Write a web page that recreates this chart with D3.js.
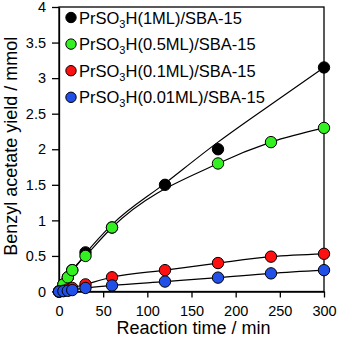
<!DOCTYPE html>
<html lang="en">
<head>
<meta charset="utf-8">
<title>Benzyl acetate yield</title>
<script src="https://cdn.jsdelivr.net/npm/d3@7"></script>
<style>
    body { margin: 0; background: #fff; }
    text { font-family: "Liberation Sans", Arial, sans-serif; fill: #000; }
    .axis path, .axis line { stroke: #000; stroke-width: 1.3; }
    .axis text { font-size: 14.5px; }
    .fit { fill: none; stroke: #000; stroke-width: 1.2; }
    .dot { stroke: #000; stroke-width: 1; }
</style>
</head>
<body>
<div id="chart"></div>
<script>
    // series
    const names = ["1ML", "0.5ML", "0.1ML", "0.01ML"];
    const colors = ["#000000", "#33f020", "#ff1010", "#2050e8"];

    const t1 = [0, 5, 10, 15, 30, 60, 120, 180, 300];
    const y1 = [0, 0.1, 0.2, 0.3, 0.55, 0.9, 1.5, 2.0, 3.15];
    // black fit line (drawn as a smooth curve in the original)
    const fitT1 = [0, 30, 60, 120, 180, 240, 300];
    const fitY1 = [0, 0.53, 0.94, 1.52, 2.1, 2.63, 3.15];

    const t2 = [0, 5, 10, 15, 30, 60, 180, 240, 300];
    const y2 = [0, 0.1, 0.2, 0.3, 0.5, 0.9, 1.8, 2.1, 2.3];

    const t3 = [0, 5, 10, 15, 30, 60, 120, 180, 240, 300];
    const y3 = [0, 0.01, 0.03, 0.05, 0.1, 0.2, 0.3, 0.4, 0.49, 0.53];

    const t4 = [0, 5, 10, 15, 30, 60, 120, 180, 240, 300];
    const y4 = [0, 0.005, 0.01, 0.02, 0.05, 0.085, 0.14, 0.195, 0.255, 0.3];

    const xTicks = [0, 50, 100, 150, 200, 250, 300];
    const yTicks = [0, 0.5, 1, 1.5, 2, 2.5, 3, 3.5, 4];

    const w = 339, h = 339;
    const m = {top: 7, right: 15, bottom: 47.5, left: 59};

    const svg = d3.select("#chart").append("svg")
        .attr("width", w).attr("height", h);

    const x = d3.scaleLinear().domain([0, 300]).range([m.left, w - m.right]);
    const y = d3.scaleLinear().domain([0, 4]).range([h - m.bottom, m.top]);

    // frame
    svg.append("rect")
        .attr("x", x(0)).attr("y", y(4))
        .attr("width", x(300) - x(0)).attr("height", y(0) - y(4))
        .attr("fill", "none").attr("stroke", "#000").attr("stroke-width", 1.3);

    svg.append("g").attr("class", "axis")
        .attr("transform", "translate(0," + y(0) + ")")
        .call(d3.axisBottom(x).tickValues(xTicks).tickSize(6).tickPadding(8).tickSizeOuter(0));

    svg.append("g").attr("class", "axis")
        .attr("transform", "translate(" + x(0) + ",0)")
        .call(d3.axisLeft(y).tickValues(yTicks).tickSize(7).tickPadding(6).tickSizeOuter(0)
            .tickFormat(d3.format("")));

    // axis titles
    svg.append("text")
        .attr("x", (x(0) + x(300)) / 2 + 2).attr("y", 334)
        .attr("text-anchor", "middle").style("font-size", "18px")
        .text("Reaction time / min");

    svg.append("text")
        .attr("transform", "translate(17," + ((y(0) + y(4)) / 2 - 3) + ") rotate(-90)")
        .attr("text-anchor", "middle").style("font-size", "18px")
        .text("Benzyl acetate yield / mmol");

    const line = d3.line()
        .x(d => x(d[0])).y(d => y(d[1]))
        .curve(d3.curveMonotoneX);

    const series = [
        {pts: d3.zip(t1, y1), fit: d3.zip(fitT1, fitY1)},
        {pts: d3.zip(t2, y2), fit: d3.zip(t2, y2)},
        {pts: d3.zip(t3, y3), fit: d3.zip(t3, y3)},
        {pts: d3.zip(t4, y4), fit: d3.zip(t4, y4)}
    ];

    series.forEach(function (s, i) {
        svg.append("path").attr("class", "fit").attr("d", line(s.fit));
        svg.append("g").selectAll("circle")
            .data(s.pts)
            .enter().append("circle")
            .attr("class", "dot")
            .attr("cx", d => x(d[0]))
            .attr("cy", d => y(d[1]))
            .attr("r", 5.7)
            .attr("fill", colors[i]);
    });

    // legend
    const leg = svg.append("g");
    names.forEach(function (n, i) {
        const ly = 17.5 + i * 26.6;
        leg.append("circle").attr("class", "dot")
            .attr("cx", 71).attr("cy", ly).attr("r", 5.2).attr("fill", colors[i]);
        const tx = leg.append("text").attr("x", 79).attr("y", ly + 6).style("font-size", "16.5px");
        tx.append("tspan").text("PrSO");
        tx.append("tspan").attr("dy", 4).style("font-size", "11px").text("3");
        tx.append("tspan").attr("dy", -4).text("H(" + n + ")/SBA-15");
    });
</script>
</body>
</html>
